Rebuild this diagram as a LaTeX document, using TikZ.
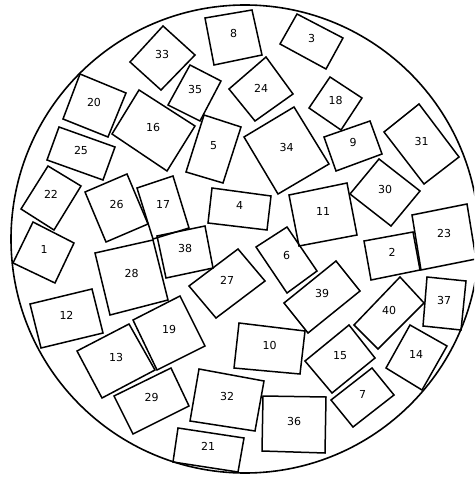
\documentclass[tikz,border=0pt]{standalone}
\usepackage{fontspec}
\setmainfont{DejaVu Sans}
\usetikzlibrary{calc}
\tikzset{
  boxline/.style={draw=black, line width=1.5pt, line join=miter},
  lbl/.style={font=\fontsize{11}{13}\selectfont, inner sep=0pt, yshift=3.5pt},
  ring/.style={draw=black, line width=1.6pt}
}
\newcommand\sqbox[5]{%
  \draw[boxline] #2 -- #3 -- #4 -- #5 -- cycle;
  \node[lbl] (n#1) at ($#2!0.5!#4$) {#1};}
\begin{document}
\begin{tikzpicture}[x=1pt,y=-1pt]
\useasboundingbox (0,0) rectangle (474,478);
\clip (0,0) rectangle (474,478);
\draw[ring] (245,239) circle[radius=234];
\sqbox{33}{(163,26)}{(195,55)}{(161,90)}{(130,62)}
\sqbox{8}{(205,18)}{(252,10)}{(262,55)}{(214,65)}
\sqbox{3}{(297,14)}{(343,38)}{(326,69)}{(280,44)}
\sqbox{20}{(80,74)}{(126,93)}{(108,137)}{(63,119)}
\sqbox{35}{(190,65)}{(221,81)}{(200,121)}{(168,105)}
\sqbox{24}{(229,89)}{(266,57)}{(293,94)}{(255,121)}
\sqbox{18}{(330,77)}{(362,98)}{(341,130)}{(309,108)}
\sqbox{16}{(139,90)}{(195,126)}{(167,171)}{(112,134)}
\sqbox{25}{(59,127)}{(115,147)}{(103,180)}{(47,160)}
\sqbox{5}{(204,115)}{(241,127)}{(223,183)}{(186,172)}
\sqbox{34}{(244,137)}{(294,107)}{(329,164)}{(278,194)}
\sqbox{9}{(324,137)}{(370,121)}{(382,154)}{(336,171)}
\sqbox{31}{(384,132)}{(419,104)}{(459,157)}{(424,184)}
\sqbox{30}{(350,194)}{(379,159)}{(420,191)}{(391,226)}
\sqbox{22}{(48,166)}{(81,186)}{(54,230)}{(21,209)}
\sqbox{26}{(85,192)}{(127,174)}{(148,224)}{(106,242)}
\sqbox{17}{(137,188)}{(173,176)}{(189,228)}{(153,239)}
\sqbox{4}{(212,188)}{(271,196)}{(267,230)}{(208,223)}
\sqbox{11}{(289,195)}{(347,183)}{(357,235)}{(299,246)}
\sqbox{23}{(412,215)}{(467,204)}{(476,259)}{(421,270)}
\sqbox{1}{(33,222)}{(74,243)}{(55,283)}{(13,263)}
\sqbox{38}{(157,236)}{(205,226)}{(213,268)}{(166,278)}
\sqbox{28}{(95,253)}{(153,240)}{(168,300)}{(110,315)}
\sqbox{27}{(189,286)}{(238,249)}{(265,281)}{(216,318)}
\sqbox{6}{(256,247)}{(287,227)}{(317,271)}{(287,293)}
\sqbox{2}{(364,241)}{(413,232)}{(420,270)}{(371,280)}
\sqbox{39}{(284,303)}{(336,261)}{(360,291)}{(308,333)}
\sqbox{40}{(354,325)}{(400,277)}{(424,303)}{(378,349)}
\sqbox{37}{(427,277)}{(466,281)}{(461,330)}{(423,326)}
\sqbox{12}{(30,304)}{(92,289)}{(103,333)}{(41,348)}
\sqbox{19}{(133,320)}{(180,296)}{(205,346)}{(157,370)}
\sqbox{13}{(77,351)}{(129,324)}{(155,370)}{(102,398)}
\sqbox{10}{(239,323)}{(305,331)}{(300,374)}{(234,368)}
\sqbox{15}{(305,361)}{(349,325)}{(375,358)}{(332,393)}
\sqbox{14}{(410,325)}{(447,346)}{(422,390)}{(386,368)}
\sqbox{29}{(114,396)}{(171,368)}{(189,406)}{(133,434)}
\sqbox{32}{(199,369)}{(264,381)}{(255,431)}{(190,421)}
\sqbox{7}{(331,400)}{(372,368)}{(394,395)}{(353,427)}
\sqbox{36}{(263,396)}{(326,397)}{(325,453)}{(262,451)}
\sqbox{21}{(178,428)}{(244,438)}{(238,472)}{(173,462)}
\end{tikzpicture}
\end{document}
